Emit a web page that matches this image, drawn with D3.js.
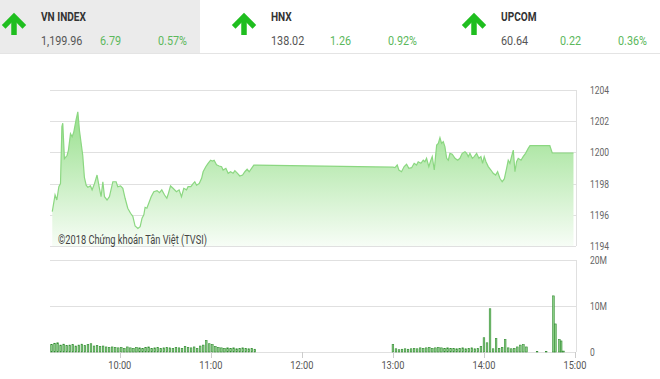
<!DOCTYPE html>
<html><head><meta charset="utf-8">
<script src="https://cdn.jsdelivr.net/npm/d3@7"></script>
<style>
html,body{margin:0;padding:0;background:#fff;}
svg{display:block;font-family:Roboto,"Noto Sans",sans-serif;}
</style></head>
<body><svg id="c" width="660" height="379"></svg>
<script>
// ---------- data ----------
const indexNames   = ["VN INDEX", "HNX", "UPCOM"];
const indexValues  = ["1,199.96", "138.02", "60.64"];
const indexChanges = ["6.79", "1.26", "0.22"];
const indexPercents= ["0.57%", "0.92%", "0.36%"];

const priceTimes = ["09:15:30","09:17:20","09:18:30","09:19:50","09:20:55","09:21:50","09:22:25","09:23:30","09:25:15","09:26:10",
"09:27:30","09:28:35","09:29:40","09:31:10","09:32:20","09:33:25","09:34:30","09:35:35","09:36:40","09:37:50",
"09:38:55","09:40:40","09:41:45","09:43:20","09:45:00","09:46:35","09:47:40","09:48:50","09:49:55","09:51:35",
"09:53:10","09:55:25","09:57:35","09:58:40","10:00:30","10:02:00","10:03:30","10:05:15","10:07:05","10:08:35",
"10:10:05","10:11:55","10:13:25","10:14:40","10:15:50","10:16:40","10:17:50","10:19:05","10:20:40","10:22:25",
"10:24:35","10:26:10","10:27:40","10:29:30","10:31:00","10:32:05","10:33:25","10:35:05","10:37:20","10:39:05",
"10:40:40","10:42:10","10:44:00","10:45:00","10:46:50","10:48:20","10:49:25","10:50:35","10:52:20","10:53:55",
"10:54:55","10:56:40","10:58:10","10:59:50","11:01:05","11:02:10","11:03:45","11:05:30","11:07:05","11:08:05",
"11:09:55","11:11:25","11:13:00","11:14:40","11:15:50","11:17:35","11:19:05","11:20:55","11:22:25","11:23:55",
"11:25:15","11:26:50","11:28:20","11:30:00",
"13:00:00","13:01:20","13:02:50","13:03:55","13:05:40","13:07:25","13:09:00","13:10:30","13:12:20","13:14:00",
"13:15:35","13:16:40","13:18:25","13:20:00","13:21:05","13:22:10","13:23:40","13:25:00","13:25:55","13:27:15",
"13:28:05","13:28:50","13:29:55","13:31:00","13:32:05","13:33:10","13:34:15","13:35:25","13:36:30","13:37:35",
"13:39:05","13:40:55","13:42:40","13:44:10","13:45:40","13:47:30","13:48:35","13:49:40","13:50:45","13:52:20",
"13:53:35","13:55:10","13:56:40","13:58:00","13:59:05","14:00:10","14:01:20","14:02:50","14:04:35","14:06:05",
"14:07:40","14:09:00","14:10:30","14:12:00","14:13:25","14:14:55","14:16:00","14:17:05","14:18:10","14:19:20",
"14:20:25","14:21:30","14:22:35","14:24:25","14:25:50","14:27:25","14:29:10","14:30:20","14:43:25","14:45:00",
"14:59:00"];
const priceValues = [1196.2,1197.27,1196.95,1197.8,1198.0,1201.65,1201.87,1199.6,1199.8,1200.15,
1201.2,1201.0,1201.3,1202.08,1202.6,1201.4,1200.6,1199.8,1198.4,1197.9,
1197.76,1197.85,1197.6,1198.0,1198.55,1197.7,1197.16,1198.12,1197.16,1196.95,
1197.16,1198.12,1198.12,1197.8,1197.85,1197.7,1197.06,1196.42,1196.1,1195.9,
1195.28,1195.13,1195.24,1195.78,1196.0,1196.48,1196.42,1196.74,1197.16,1197.48,
1197.55,1197.42,1197.6,1197.27,1197.06,1197.38,1197.85,1197.7,1197.48,1197.6,
1197.16,1197.7,1197.6,1197.8,1197.8,1198.0,1198.12,1197.9,1198.0,1198.34,
1198.76,1199.08,1199.3,1199.5,1199.45,1199.5,1199.2,1199.13,1199.08,1198.87,
1198.98,1198.66,1198.76,1198.66,1198.83,1198.66,1198.49,1198.55,1198.76,1198.92,
1198.76,1198.98,1199.19,1199.19,
1199.05,1199.02,1199.19,1198.87,1198.76,1199.09,1199.24,1198.98,1199.02,1199.3,
1199.19,1199.4,1199.3,1199.5,1199.4,1199.62,1199.09,1199.5,1199.73,1198.87,
1199.73,1200.47,1200.58,1200.94,1200.58,1200.69,1200.37,1199.62,1199.5,1199.94,
1199.88,1199.62,1199.5,1199.62,1199.94,1200.04,1199.94,1199.73,1199.94,1199.62,
1199.73,1199.94,1199.62,1199.73,1199.3,1199.73,1199.4,1199.09,1198.87,1198.66,
1198.55,1198.76,1198.34,1198.12,1198.3,1198.98,1199.5,1199.3,1199.73,1200.15,
1198.76,1199.4,1199.62,1199.5,1199.73,1199.94,1200.26,1200.43,1200.43,1199.96,
1199.96];

// volume (millions), 2-minute bars
const volAMStart = "09:15";
const volAMValues = [1.6,1.9,2.0,1.5,1.7,
1.4,1.5,1.6,1.3,1.5,1.7,1.4,1.6,1.8,1.3,
1.4,1.2,1.3,1.1,1.0,1.1,1.0,0.9,
1.0,0.8,1.1,0.9,0.8,1.0,0.9,0.8,1.0,1.1,0.8,0.9,1.0,0.8,0.9,
1.0,0.9,0.8,1.0,0.9,0.8,1.2,1.0,0.9,1.1,0.8,1.3,1.5,2.5,1.8,
1.6,1.2,1.0,0.9,0.8,0.9,0.8,0.9,0.7,0.8,0.9,0.8,0.7,0.8,0.6];
const volPMStart = "13:00";
const volPMValues = [1.6,0.7,0.5,0.6,0.7,0.6,0.7,0.8,0.7,0.9,
0.8,0.9,1.0,0.8,0.9,1.0,0.9,0.8,0.9,0.8,
0.8,0.7,0.8,0.9,0.7,0.8,0.9,0.7,0.8,1.2,
3.1,2.0,9.4,0.7,2.9,0.8,1.0,2.7,0.9,0.7,
0.8,1.1,1.5,1.6,1.1];
const volLateTimes  = ["14:35","14:41","14:45:48","14:47:06","14:49:42","14:50:54","14:52:24"];
const volLateValues = [0.1,0.1,12.2,6.1,2.7,2.4,0.2];

const priceTicks = [1194,1196,1198,1200,1202,1204];
const volTicks = [0,10,20];
const volTickLabels = ["0","10M","20M"];
const timeTicks = ["10:00","11:00","12:00","13:00","14:00","15:00"];
const copyright = "©2018 Chứng khoán Tân Việt (TVSI)";

// ---------- chart ----------
const svg = d3.select("#c");
const pS = d3.timeParse("%H:%M:%S"), pM = d3.timeParse("%H:%M");
const parseT = s => s.length > 5 ? pS(s) : pM(s);
function condense(sel, f){
  sel.each(function(){
    const L = this.getComputedTextLength();
    d3.select(this).attr("textLength", L*f).attr("lengthAdjust","spacingAndGlyphs");
  });
}

const x = d3.scaleTime().domain([pM("09:14"), pM("15:00")]).range([50, 575]);
const yP = d3.scaleLinear().domain([1194, 1204]).range([246, 90]);
const yV = d3.scaleLinear().domain([0, 20]).range([352, 260]);

// header
svg.append("rect").attr("x",0).attr("y",0).attr("width",200).attr("height",53).attr("fill","#ebebeb");
svg.append("line").attr("x1",0).attr("x2",660).attr("y1",53.5).attr("y2",53.5).attr("stroke","#e4e4e4");
indexNames.forEach((n,i)=>{
  const ox = i*230;
  const g = svg.append("g").attr("transform",`translate(${ox},0)`);
  const ax = 14;
  g.append("path").attr("d",`M${ax-8.5},${25} L${ax},${16.5} L${ax+8.5},${25}`)
    .attr("fill","none").attr("stroke","#1fbe1f").attr("stroke-width",5.2).attr("stroke-linecap","square");
  g.append("line").attr("x1",ax).attr("x2",ax).attr("y1",17).attr("y2",35)
    .attr("stroke","#1fbe1f").attr("stroke-width",5.5);
  condense(g.append("text").attr("x",41).attr("y",21).text(n)
    .attr("font-size",12).attr("font-weight","bold").attr("fill","#333"), 0.84);
  condense(g.append("text").attr("x",41).attr("y",44.5).text(indexValues[i]).attr("font-size",12).attr("fill","#555"),0.9);
  condense(g.append("text").attr("x",100).attr("y",44.5).text(indexChanges[i]).attr("font-size",12).attr("fill","#5cb85c"),0.9);
  condense(g.append("text").attr("x",158).attr("y",44.5).text(indexPercents[i]).attr("font-size",12).attr("fill","#5cb85c"),0.9);
});

// gradient
const defs = svg.append("defs");
const grad = defs.append("linearGradient").attr("id","gf").attr("gradientUnits","userSpaceOnUse")
  .attr("x1",0).attr("x2",0).attr("y1",105).attr("y2",246);
grad.append("stop").attr("offset",0).attr("stop-color","#93de87");
grad.append("stop").attr("offset",1).attr("stop-color","#f7fdf6");

// price grid
svg.append("g").selectAll("line").data(priceTicks).join("line")
  .attr("x1",50).attr("x2",576).attr("y1",d=>Math.round(yP(d))+0.5).attr("y2",d=>Math.round(yP(d))+0.5)
  .attr("stroke","#e0e0e0");
svg.append("line").attr("x1",576.5).attr("x2",576.5).attr("y1",90).attr("y2",246).attr("stroke","#e0e0e0");

const pdata = priceTimes.map((t,i)=>({t:parseT(t), v:priceValues[i]}));
svg.append("path").datum(pdata)
  .attr("d", d3.area().x(d=>x(d.t)).y0(yP(1194)).y1(d=>yP(d.v)))
  .attr("fill","url(#gf)");
svg.append("path").datum(pdata)
  .attr("d", d3.line().x(d=>x(d.t)).y(d=>yP(d.v)))
  .attr("fill","none").attr("stroke","#8bd781").attr("stroke-width",1.2);

condense(svg.append("g").selectAll("text").data(priceTicks).join("text")
  .attr("x",590).attr("y",d=>yP(d)+4).text(d=>d).attr("font-size",10).attr("fill","#666"),0.85);

svg.append("text").attr("x",58).attr("y",243.5).text(copyright).attr("font-size",12).attr("fill","#444")
  .attr("textLength",149).attr("lengthAdjust","spacingAndGlyphs");

// volume grid
svg.append("g").selectAll("line").data(volTicks).join("line")
  .attr("x1",50).attr("x2",576).attr("y1",d=>Math.round(yV(d))+0.5).attr("y2",d=>Math.round(yV(d))+0.5)
  .attr("stroke","#e0e0e0");
svg.append("line").attr("x1",576.5).attr("x2",576.5).attr("y1",260).attr("y2",352).attr("stroke","#e0e0e0");
condense(svg.append("g").selectAll("text").data(volTicks).join("text")
  .attr("x",590).attr("y",d=>yV(d)+4).text((d,i)=>volTickLabels[i]).attr("font-size",10).attr("fill","#666"),0.85);

const amStart = pM(volAMStart), pmStart = pM(volPMStart);
const vdata = [];
volAMValues.forEach((v,i)=>vdata.push({t:d3.timeMinute.offset(amStart,2*i), v}));
volPMValues.forEach((v,i)=>vdata.push({t:d3.timeMinute.offset(pmStart,2*i), v}));
volLateTimes.forEach((t,i)=>vdata.push({t:parseT(t), v:volLateValues[i]}));
svg.append("g").selectAll("rect").data(vdata).join("rect")
  .attr("x",d=>x(d.t)-0.8).attr("width",1.6)
  .attr("y",d=>yV(d.v)).attr("height",d=>yV(0)-yV(d.v))
  .attr("fill","#8ccf86").attr("stroke","#2f8a2f").attr("stroke-width",0.6);

// x axis ticks
const tt = timeTicks.map(pM);
svg.append("g").selectAll("line").data(tt).join("line")
  .attr("x1",d=>Math.round(x(d))+0.5).attr("x2",d=>Math.round(x(d))+0.5).attr("y1",352).attr("y2",358)
  .attr("stroke","#ccc");
condense(svg.append("g").selectAll("text").data(tt).join("text")
  .attr("x",d=>x(d)).attr("y",369).attr("text-anchor","middle").text((d,i)=>timeTicks[i])
  .attr("font-size",10.5).attr("fill","#555"),0.88);
</script></body></html>
